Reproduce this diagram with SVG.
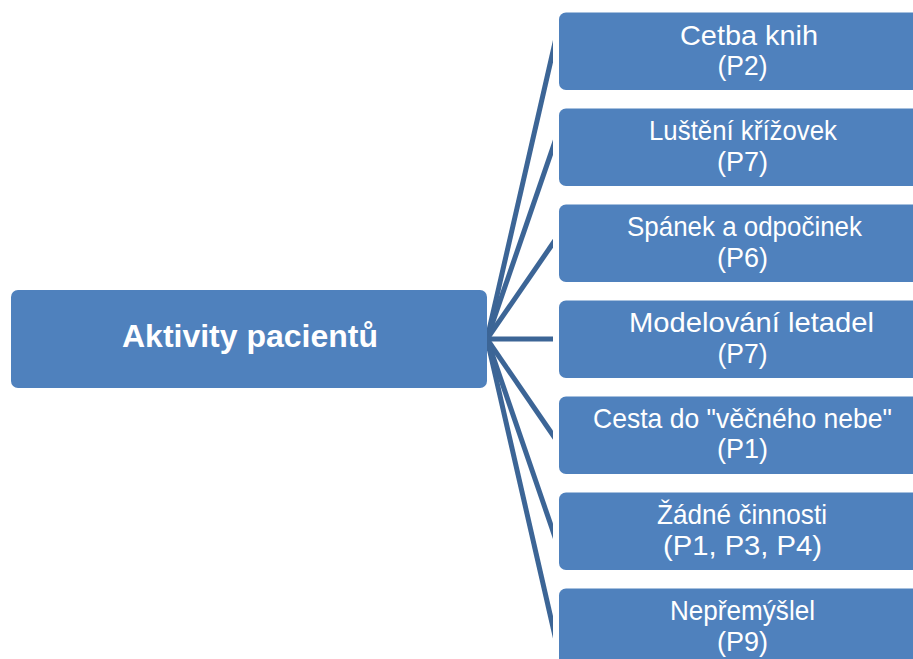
<svg xmlns="http://www.w3.org/2000/svg" width="913" height="659" viewBox="0 0 913 659">
  <style>
    .box { fill: #4F81BD; }
    .conn { stroke: #3C6596; stroke-width: 5; fill: none; }
    .lbl { font-family: "Liberation Sans", Arial, sans-serif; font-size: 28px; fill: #FFFFFF; text-anchor: middle; }
    .root { font-family: "Liberation Sans", Arial, sans-serif; font-size: 31px; font-weight: bold; fill: #FFFFFF; text-anchor: middle; }
  </style>
  <defs>
    <clipPath id="connClip">
      <rect x="487" y="0" width="66" height="659"/>
    </clipPath>
  </defs>
  <rect width="913" height="659" fill="#FFFFFF"/>

  <!-- connectors fanning out from the root, cut square at both ends -->
  <g id="connectors" clip-path="url(#connClip)">
    <line class="conn" x1="477.1" y1="382.16" x2="562.9" y2="8.09"/>
    <line class="conn" x1="477.1" y1="367.76" x2="562.9" y2="118.49"/>
    <line class="conn" x1="477.1" y1="353.36" x2="562.9" y2="228.89"/>
    <line class="conn" x1="477.1" y1="339" x2="562.9" y2="339"/>
    <line class="conn" x1="477.1" y1="324.6" x2="562.9" y2="449.65"/>
    <line class="conn" x1="477.1" y1="310.2" x2="562.9" y2="560.05"/>
    <line class="conn" x1="477.1" y1="295.8" x2="562.9" y2="670.45"/>
  </g>

  <g id="root">
    <rect class="box" x="11" y="290" width="476" height="98" rx="7"/>
    <text class="root" x="250" y="347" textLength="256" lengthAdjust="spacingAndGlyphs">Aktivity pacientů</text>
  </g>

  <g id="cetba">
    <rect class="box" x="559" y="12.5" width="380" height="77.5" rx="7"/>
    <text class="lbl" x="749" y="44.5" textLength="138" lengthAdjust="spacingAndGlyphs">Cetba knih</text>
    <text class="lbl" x="742.5" y="75" textLength="50" lengthAdjust="spacingAndGlyphs">(P2)</text>
  </g>

  <g id="krizovky">
    <rect class="box" x="559" y="108.5" width="380" height="77.5" rx="7"/>
    <text class="lbl" x="743" y="140" textLength="188" lengthAdjust="spacingAndGlyphs">Luštění křížovek</text>
    <text class="lbl" x="742.5" y="170.5" textLength="51" lengthAdjust="spacingAndGlyphs">(P7)</text>
  </g>

  <g id="spanek">
    <rect class="box" x="559" y="204.5" width="380" height="77.5" rx="7"/>
    <text class="lbl" x="744.5" y="235.5" textLength="235" lengthAdjust="spacingAndGlyphs">Spánek a odpočinek</text>
    <text class="lbl" x="742.5" y="266.5" textLength="51" lengthAdjust="spacingAndGlyphs">(P6)</text>
  </g>

  <g id="modelovani">
    <rect class="box" x="559" y="300.5" width="380" height="77.5" rx="7"/>
    <text class="lbl" x="751.5" y="332" textLength="245" lengthAdjust="spacingAndGlyphs">Modelování letadel</text>
    <text class="lbl" x="742.5" y="362.5" textLength="50" lengthAdjust="spacingAndGlyphs">(P7)</text>
  </g>

  <g id="cesta">
    <rect class="box" x="559" y="396.5" width="380" height="77.5" rx="7"/>
    <text class="lbl" x="742.5" y="427.5" textLength="299" lengthAdjust="spacingAndGlyphs">Cesta do "věčného nebe"</text>
    <text class="lbl" x="742.5" y="458" textLength="51" lengthAdjust="spacingAndGlyphs">(P1)</text>
  </g>

  <g id="zadne">
    <rect class="box" x="559" y="492.5" width="380" height="77.5" rx="7"/>
    <text class="lbl" x="742" y="524" textLength="170" lengthAdjust="spacingAndGlyphs">Žádné činnosti</text>
    <text class="lbl" x="742.5" y="554.5" textLength="159" lengthAdjust="spacingAndGlyphs">(P1, P3, P4)</text>
  </g>

  <g id="nepremyslel">
    <rect class="box" x="559" y="588.5" width="380" height="77.5" rx="7"/>
    <text class="lbl" x="742.5" y="620" textLength="145" lengthAdjust="spacingAndGlyphs">Nepřemýšlel</text>
    <text class="lbl" x="742.5" y="650.5" textLength="51" lengthAdjust="spacingAndGlyphs">(P9)</text>
  </g>
</svg>
